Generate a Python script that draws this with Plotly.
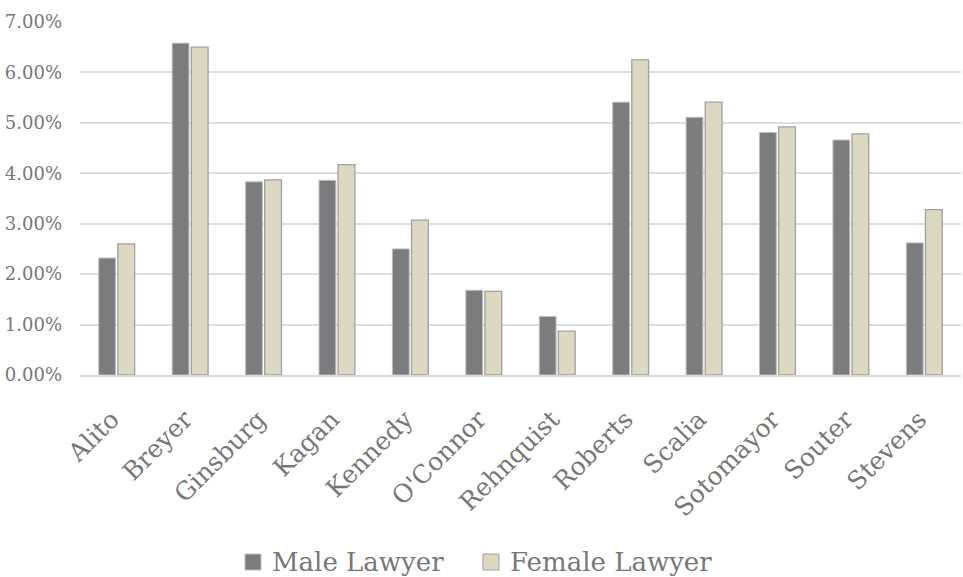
import plotly.graph_objects as go

justices = ["Alito", "Breyer", "Ginsburg", "Kagan", "Kennedy", "O'Connor",
            "Rehnquist", "Roberts", "Scalia", "Sotomayor", "Souter", "Stevens"]
male_lawyer = [2.32, 6.58, 3.83, 3.86, 2.50, 1.68, 1.16, 5.41, 5.11, 4.81, 4.66, 2.62]
female_lawyer = [2.60, 6.50, 3.87, 4.17, 3.07, 1.66, 0.87, 6.25, 5.41, 4.92, 4.78, 3.28]
y_ticks = [0, 1, 2, 3, 4, 5, 6, 7]

FONT = "DejaVu Serif"
TEXT_GREY = "#777777"
MALE_FILL, MALE_EDGE = "#7b7c7e", "#bdbdbd"
FEMALE_FILL, FEMALE_EDGE = "#ddd8c1", "#a0a0a0"

W, H = 963, 577
L, R, T, B = 80, 2, 22, 202
PW, PH = W - L - R, H - T - B


def px_x(px):
    return (px - L) / PW


def px_y(py):
    return (H - B - py) / PH


fig = go.Figure()
fig.add_trace(go.Bar(
    name="Male Lawyer", x=justices, y=[v / 100 for v in male_lawyer],
    marker=dict(color=MALE_FILL, line=dict(color=MALE_EDGE, width=1)),
    showlegend=False,
))
fig.add_trace(go.Bar(
    name="Female Lawyer", x=justices, y=[v / 100 for v in female_lawyer],
    marker=dict(color=FEMALE_FILL, line=dict(color=FEMALE_EDGE, width=1.3)),
    showlegend=False,
))

# legend drawn below the category labels: swatch + label per series
legend_items = [("Male Lawyer", MALE_FILL, MALE_EDGE, 245),
                ("Female Lawyer", FEMALE_FILL, FEMALE_EDGE, 483)]
shapes, annotations = [], []
for label, fill, edge, x0 in legend_items:
    shapes.append(dict(
        type="rect", xref="paper", yref="paper",
        x0=px_x(x0), x1=px_x(x0 + 16), y0=px_y(570), y1=px_y(554),
        fillcolor=fill, line=dict(color=edge, width=1),
    ))
    annotations.append(dict(
        text=label, xref="paper", yref="paper",
        x=px_x(x0 + 25), y=px_y(562), xanchor="left", yanchor="middle",
        showarrow=False, font=dict(size=26, color=TEXT_GREY, family=FONT),
    ))

fig.update_layout(
    width=W, height=H,
    margin=dict(l=L, r=R, t=T, b=B),
    plot_bgcolor="white", paper_bgcolor="white",
    barmode="group", bargap=0.48, bargroupgap=0.12,
    font=dict(family=FONT, color=TEXT_GREY),
    xaxis=dict(
        tickangle=-45, tickfont=dict(size=25, color=TEXT_GREY, family=FONT),
        showline=True, linecolor="#d9d9d9", linewidth=1.5,
        ticks="", showgrid=False, automargin=False,
        ticklabelstandoff=18, ticklabelshift=-5,
    ),
    yaxis=dict(
        range=[0, 0.07], tickvals=[t / 100 for t in y_ticks], tickformat=".2%",
        tickfont=dict(size=18, color=TEXT_GREY, family=FONT),
        showgrid=True, gridcolor="#dedede", gridwidth=1.5,
        zeroline=False, ticks="", automargin=False, ticklabelstandoff=17,
    ),
    shapes=shapes,
    annotations=annotations,
)

fig.write_html("out.html")
